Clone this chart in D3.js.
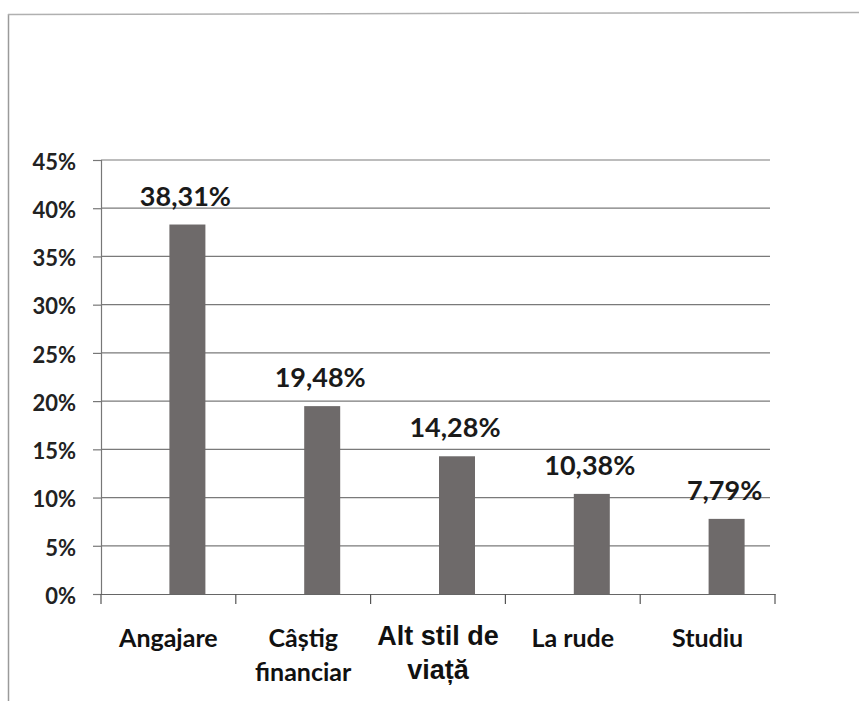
<!DOCTYPE html>
<html><head><meta charset="utf-8">
<script src="https://cdn.jsdelivr.net/npm/d3@7"></script>
<style>body{margin:0;background:#fff}svg{display:block}</style>
</head><body><svg id="c" width="859" height="701"></svg>
<script>
const categories = [["Angajare"], ["Câștig", "financiar"], ["Alt stil de", "viață"], ["La rude"], ["Studiu"]];
const values = [38.31, 19.48, 14.28, 10.38, 7.79];
const valueLabels = ["38,31%", "19,48%", "14,28%", "10,38%", "7,79%"];
const yTicks = [0, 5, 10, 15, 20, 25, 30, 35, 40, 45];

(function () {
const svg = d3.select("#c");
const font = "Lato, 'Open Sans', sans-serif";
const mLeft = 101, mRight = 775, mTop = 160, mBottom = 594;

// frame
svg.append("line").attr("x1", 8.5).attr("x2", 8.5).attr("y1", 14).attr("y2", 701).attr("stroke", "#9a9a9a").attr("stroke-width", 1.5);
svg.append("line").attr("x1", 8).attr("x2", 859).attr("y1", 14.5).attr("y2", 12.5).attr("stroke", "#b0b0b0").attr("stroke-width", 1.5);

const x = d3.scaleBand().domain(d3.range(categories.length)).range([mLeft, mRight]);
const y = d3.scaleLinear().domain([0, 45]).range([mBottom, mTop]);

// gridlines
svg.append("g").selectAll("line").data(yTicks.filter(d => d > 0)).join("line")
  .attr("x1", mLeft).attr("x2", 770).attr("y1", d => y(d)).attr("y2", d => y(d))
  .attr("stroke", "#7a7a7a").attr("stroke-width", 1.2);

// y axis
const ya = svg.append("g").attr("transform", `translate(${mLeft},0)`)
  .call(d3.axisLeft(y).tickValues(yTicks).tickSize(8).tickFormat(d => d + "%"));
ya.select(".domain").attr("stroke", "#777").attr("stroke-width", 1.2);
ya.selectAll(".tick line").attr("stroke", "#777").attr("stroke-width", 1.2);
ya.selectAll("text").attr("font-family", font).attr("font-weight", "bold").attr("font-size", 22)
  .attr("fill", "#222").attr("x", -25).attr("dy", "0.42em");

// bars
const bw = 36, off = 19;
svg.append("g").selectAll("rect").data(values).join("rect")
  .attr("x", (d, i) => x(i) + x.bandwidth() / 2 + off - bw / 2)
  .attr("width", bw)
  .attr("y", d => y(d)).attr("height", d => y(0) - y(d))
  .attr("fill", "#6e6a6a");

// x axis
const xa = svg.append("g").attr("transform", `translate(0,${mBottom})`)
  .call(d3.axisBottom(x).tickSize(0).tickFormat(""));
xa.select(".domain").attr("stroke", "#666").attr("stroke-width", 1.2);
svg.append("g").selectAll("line").data(d3.range(categories.length + 1)).join("line")
  .attr("x1", i => mLeft + i * x.bandwidth()).attr("x2", i => mLeft + i * x.bandwidth())
  .attr("y1", mBottom).attr("y2", mBottom + 10).attr("stroke", "#555").attr("stroke-width", 1.2);

// category labels
const cl = svg.append("g").selectAll("text").data(categories).join("text")
  .attr("text-anchor", "middle")
  .attr("font-family", (d, i) => i === 2 ? "'Liberation Sans', Arial, sans-serif" : font)
  .attr("font-weight", "bold")
  .attr("font-size", (d, i) => i === 2 ? 27 : 25).attr("fill", "#111")
  .attr("x", (d, i) => x(i) + x.bandwidth() / 2)
  .attr("y", (d, i) => i === 2 ? 645 : 647);
cl.selectAll("tspan").data(d => d).join("tspan")
  .attr("x", function () { return this.parentNode.getAttribute("x"); })
  .attr("dy", (d, i) => i === 0 ? 0 : 34).text(d => d);

// value labels
svg.append("g").selectAll("text").data(values).join("text")
  .attr("text-anchor", "middle").attr("font-family", font).attr("font-weight", "bold")
  .attr("font-size", 27).attr("fill", "#1a1a1a")
  .attr("x", (d, i) => x(i) + x.bandwidth() / 2 + off - 2)
  .attr("y", d => y(d) - 19)
  .text((d, i) => valueLabels[i]);
})();
</script></body></html>
